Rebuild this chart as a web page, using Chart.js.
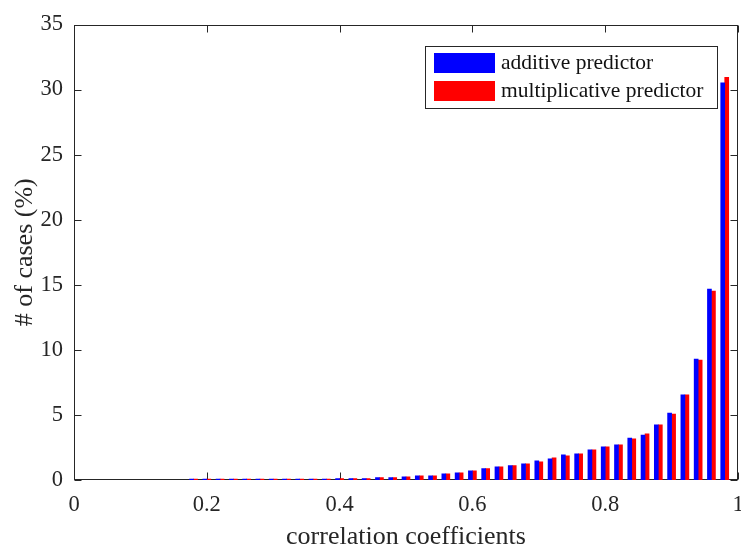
<!DOCTYPE html>
<html>
<head>
<meta charset="utf-8">
<script src="https://cdn.jsdelivr.net/npm/chart.js@4.4.1/dist/chart.umd.min.js"></script>
<style>
    html, body { margin: 0; padding: 0; background: #fff; }
</style>
</head>
<body>
<canvas id="histCanvas" width="741" height="547"></canvas>
<script>
// --------------------
// Data
// --------------------
const binCenters = [
    0.18, 0.20, 0.22, 0.24, 0.26, 0.28, 0.30, 0.32, 0.34, 0.36, 0.38,
    0.40, 0.42, 0.44, 0.46, 0.48, 0.50, 0.52, 0.54, 0.56, 0.58,
    0.60, 0.62, 0.64, 0.66, 0.68, 0.70, 0.72, 0.74, 0.76, 0.78,
    0.80, 0.82, 0.84, 0.86, 0.88, 0.90, 0.92, 0.94, 0.96, 0.98
];

const additiveValues = [
    0.08, 0.08, 0.08, 0.08, 0.08, 0.08, 0.08, 0.08, 0.08, 0.08, 0.08,
    0.10, 0.10, 0.10, 0.18, 0.18, 0.25, 0.33, 0.33, 0.48, 0.56,
    0.71, 0.87, 1.02, 1.10, 1.25, 1.48, 1.63, 1.94, 2.01, 2.32,
    2.55, 2.70, 3.23, 3.46, 4.23, 5.15, 6.55, 9.30, 14.67, 30.51
];

const multiplicativeValues = [
    0.08, 0.08, 0.08, 0.08, 0.08, 0.08, 0.08, 0.08, 0.08, 0.08, 0.08,
    0.10, 0.10, 0.10, 0.18, 0.18, 0.25, 0.33, 0.33, 0.48, 0.56,
    0.71, 0.87, 1.02, 1.10, 1.25, 1.40, 1.71, 1.86, 2.01, 2.32,
    2.55, 2.70, 3.16, 3.54, 4.23, 5.07, 6.55, 9.22, 14.52, 30.95
];

const xTickValues = [0, 0.2, 0.4, 0.6, 0.8, 1];
const yTickValues = [0, 5, 10, 15, 20, 25, 30, 35];

// --------------------
// Styling
// --------------------
const axisColor = '#262626';
const serif = "'Liberation Serif', 'Times New Roman', serif";

// MATLAB-like box with inward ticks, drawn under the bars
const boxPlugin = {
    id: 'matlabBox',
    beforeDatasetsDraw(chart) {
        const { ctx, chartArea: a, scales } = chart;
        const L = Math.round(a.left) + 0.5;
        const R = Math.round(a.right) - 0.5;
        const T = Math.round(a.top) + 0.5;
        const B = Math.round(a.bottom) - 0.5;
        const tick = 7;
        ctx.save();
        ctx.strokeStyle = axisColor;
        ctx.lineWidth = 1;
        ctx.beginPath();
        xTickValues.forEach(v => {
            const px = Math.round(scales.x.getPixelForValue(v)) + 0.5;
            ctx.moveTo(px, B); ctx.lineTo(px, B - tick);
            ctx.moveTo(px, T); ctx.lineTo(px, T + tick);
        });
        yTickValues.forEach(v => {
            const py = Math.round(scales.y.getPixelForValue(v)) + 0.5;
            ctx.moveTo(L, py); ctx.lineTo(L + tick, py);
            ctx.moveTo(R, py); ctx.lineTo(R - tick, py);
        });
        ctx.stroke();
        ctx.strokeRect(L, T, R - L, B - T);
        ctx.restore();
    }
};

// Legend box in the upper right corner of the axes
const legendPlugin = {
    id: 'boxLegend',
    afterDatasetsDraw(chart) {
        const { ctx, chartArea: a } = chart;
        const right = Math.round(a.right) - 21;
        const left = right - 292;
        const top = Math.round(a.top) + 21;
        const height = 62;
        ctx.save();
        ctx.fillStyle = '#fff';
        ctx.fillRect(left, top, right - left, height);
        ctx.strokeStyle = axisColor;
        ctx.lineWidth = 1;
        ctx.strokeRect(left + 0.5, top + 0.5, right - left, height);
        ctx.font = '21.5px ' + serif;
        ctx.textBaseline = 'middle';
        chart.data.datasets.forEach((ds, i) => {
            const y = top + 7 + i * 28;
            ctx.fillStyle = ds.backgroundColor;
            ctx.fillRect(left + 9, y, 61, 20);
            ctx.fillStyle = '#111';
            ctx.fillText(ds.label, left + 76, y + 10);
        });
        ctx.restore();
    }
};

// --------------------
// Chart instance
// --------------------
const ctx = document.getElementById('histCanvas').getContext('2d');

new Chart(ctx, {
    type: 'bar',
    data: {
        datasets: [
            {
                label: 'additive predictor',
                data: binCenters.map((x, i) => ({ x: x, y: additiveValues[i] })),
                backgroundColor: '#0000ff',
                borderWidth: 0,
                barThickness: 4
            },
            {
                label: 'multiplicative predictor',
                data: binCenters.map((x, i) => ({ x: x, y: multiplicativeValues[i] })),
                backgroundColor: '#ff0000',
                borderWidth: 0,
                barThickness: 4
            }
        ]
    },
    options: {
        responsive: false,
        animation: false,
        devicePixelRatio: 1,
        layout: { padding: { top: 22, right: 3, left: 0, bottom: 0 } },
        plugins: {
            legend: { display: false },
            tooltip: { enabled: false }
        },
        scales: {
            x: {
                type: 'linear',
                min: 0,
                max: 1,
                offset: false,
                afterBuildTicks: s => { s.ticks = xTickValues.map(v => ({ value: v })); },
                afterFit: s => { s.height = 67; s.paddingLeft = 0; s.paddingRight = 0; },
                grid: { display: false, drawTicks: false },
                border: { display: false },
                ticks: {
                    color: axisColor,
                    padding: 12,
                    maxRotation: 0,
                    font: { family: serif, size: 22.5 },
                    callback: v => String(v)
                },
                title: {
                    display: true,
                    text: 'correlation coefficients',
                    color: axisColor,
                    padding: { top: 0, bottom: 0 },
                    font: { family: serif, size: 26, lineHeight: '20px' }
                }
            },
            y: {
                min: 0,
                max: 35,
                afterBuildTicks: s => { s.ticks = yTickValues.map(v => ({ value: v })); },
                afterFit: s => { s.width = 74; },
                grid: { display: false, drawTicks: false },
                border: { display: false },
                ticks: {
                    color: axisColor,
                    padding: 11,
                    font: { family: serif, size: 22.5 }
                },
                title: {
                    display: true,
                    text: '# of cases (%)',
                    color: axisColor,
                    padding: { top: 10, bottom: 0 },
                    font: { family: serif, size: 26 }
                }
            }
        }
    },
    plugins: [boxPlugin, legendPlugin]
});
</script>
</body>
</html>
